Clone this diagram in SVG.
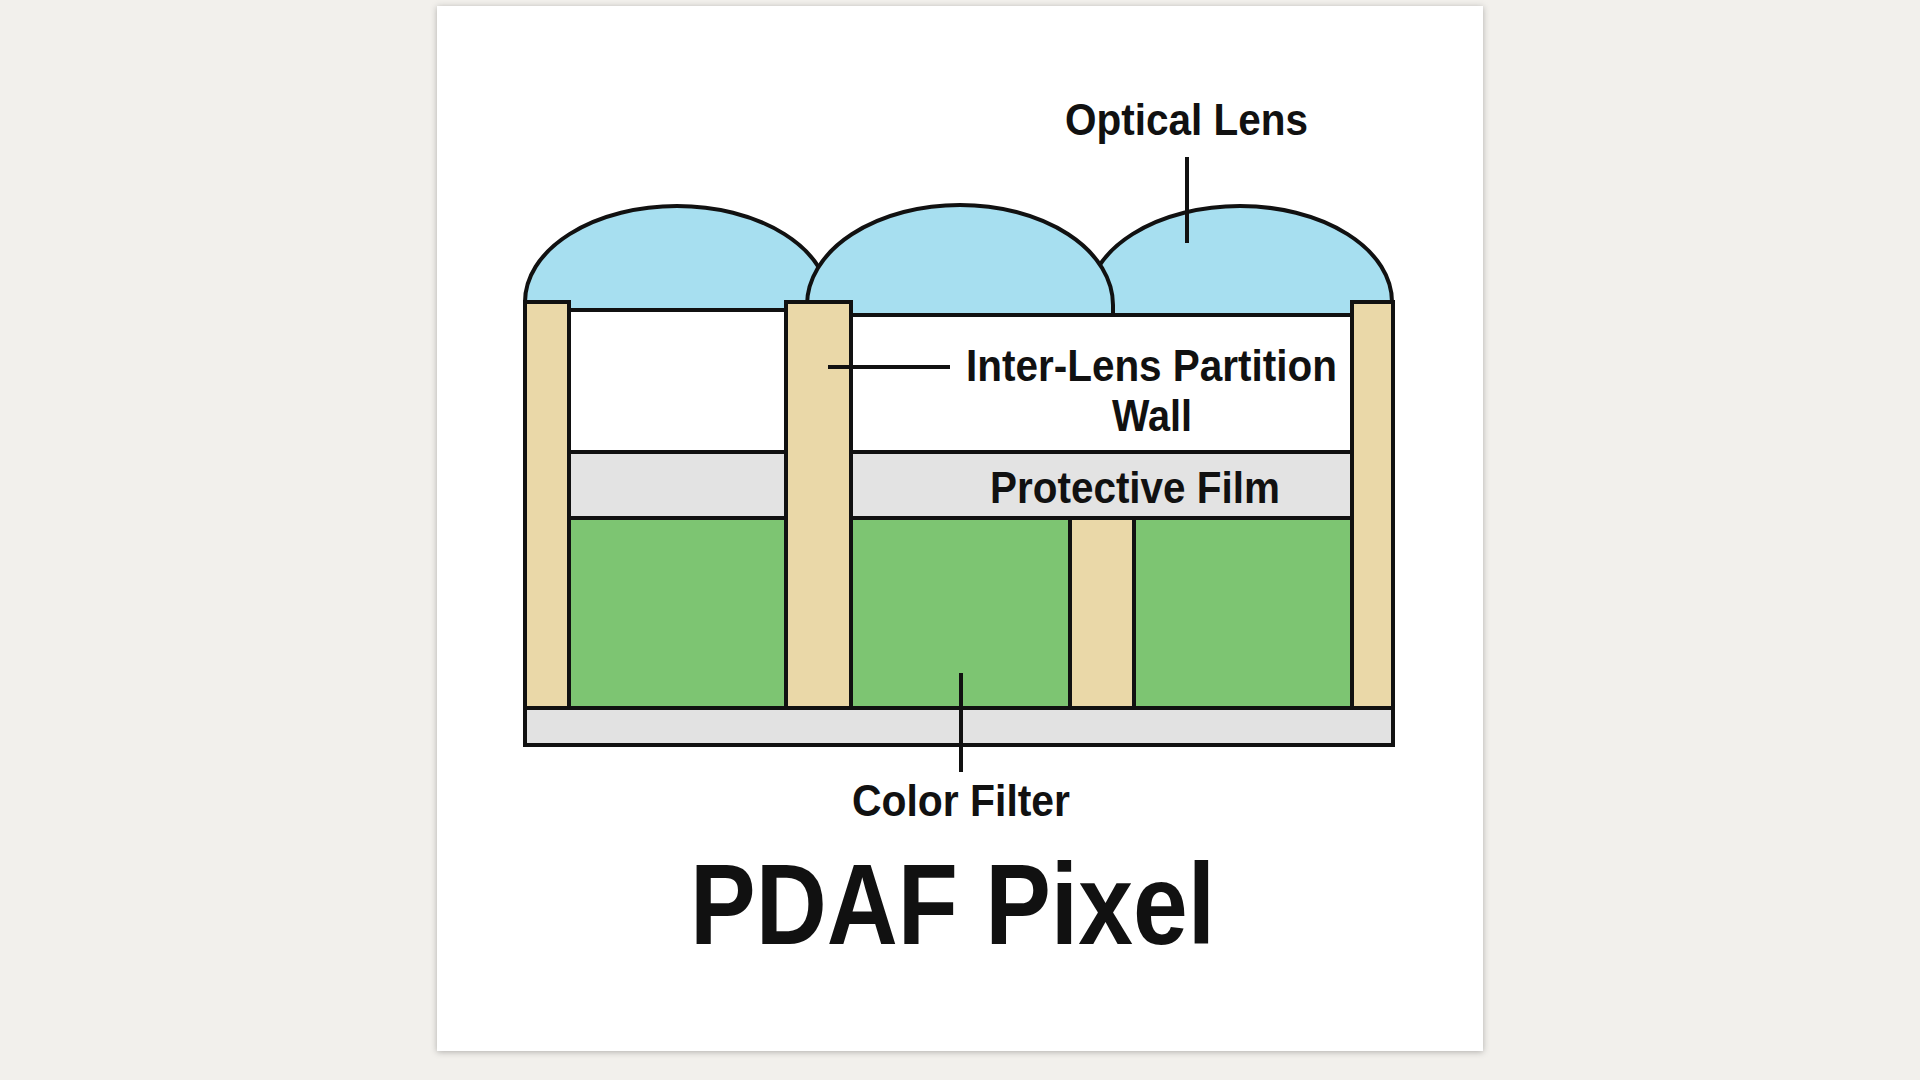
<svg xmlns="http://www.w3.org/2000/svg" width="1920" height="1080" viewBox="0 0 1920 1080">
  <defs>
    <filter id="shadow" x="-5%" y="-5%" width="110%" height="110%">
      <feDropShadow dx="0" dy="1" stdDeviation="3" flood-color="#000" flood-opacity="0.28"/>
    </filter>
    <style>
      .ln { stroke: #111; stroke-width: 4; stroke-linejoin: miter; }
      .lens { fill: #a7dff0; }
      .post { fill: #ead8a8; }
      .white { fill: #ffffff; }
      .film { fill: #e3e3e3; }
      .green { fill: #7dc572; }
      .base { fill: #e2e2e2; }
      .lbl { font-family: "Liberation Sans", Arial, Helvetica, sans-serif; font-weight: 700; font-size: 45px; fill: #111; }
      .title { font-family: "Liberation Sans", Arial, Helvetica, sans-serif; font-weight: 700; font-size: 115px; fill: #111; }
      .leader { stroke: #111; stroke-width: 4; fill: none; }
    </style>
  </defs>

  <rect x="0" y="0" width="1920" height="1080" fill="#f2f0ec"/>
  <rect id="card" x="437" y="6" width="1046" height="1045" fill="#ffffff" filter="url(#shadow)"/>

  <!-- lenses (lens 2 in front) -->
  <g id="lens-1">
    <path class="lens ln" d="M 525 302 A 152 96 0 0 1 829 302 L 829 320 L 525 320 Z"/>
  </g>
  <g id="lens-3">
    <path class="lens ln" d="M 1088 302 A 152 96 0 0 1 1392 302 L 1392 320 L 1088 320 Z"/>
  </g>
  <g id="lens-2">
    <path class="lens ln" d="M 807 305 A 153 100 0 0 1 1113 305 L 1113 320 L 807 320 Z"/>
  </g>

  <!-- cavities between walls -->
  <g id="left-cavity">
    <rect class="white ln" x="569" y="310" width="217" height="142"/>
  </g>
  <g id="right-cavity">
    <rect class="white ln" x="851" y="315" width="501" height="137"/>
  </g>

  <g id="protective-film">
    <rect class="film ln" x="569" y="452" width="217" height="66"/>
    <rect class="film ln" x="851" y="452" width="501" height="66"/>
  </g>

  <g id="color-filter">
    <rect class="green ln" x="569" y="518" width="217" height="190"/>
    <rect class="green ln" x="851" y="518" width="219" height="190"/>
    <rect class="green ln" x="1134" y="518" width="218" height="190"/>
  </g>

  <g id="partition-walls">
    <rect class="post ln" x="525" y="302" width="44" height="406"/>
    <rect class="post ln" x="786" y="302" width="65" height="406"/>
    <rect class="post ln" x="1352" y="302" width="41" height="406"/>
    <rect class="post ln" x="1070" y="518" width="64" height="190"/>
  </g>

  <g id="base-layer">
    <rect class="base ln" x="525" y="708" width="868" height="37"/>
  </g>

  <g id="connectors">
    <line class="leader" x1="1187" y1="157" x2="1187" y2="243"/>
    <line class="leader" x1="828" y1="367" x2="950" y2="367"/>
    <line class="leader" x1="961" y1="673" x2="961" y2="772"/>
  </g>

  <g id="label-optical-lens">
    <text class="lbl" x="1065" y="135" textLength="243" lengthAdjust="spacingAndGlyphs">Optical Lens</text>
  </g>
  <g id="label-partition-wall">
    <text class="lbl" x="966" y="381" textLength="371" lengthAdjust="spacingAndGlyphs">Inter-Lens Partition</text>
    <text class="lbl" x="1112" y="431" textLength="80" lengthAdjust="spacingAndGlyphs">Wall</text>
  </g>
  <g id="label-protective-film">
    <text class="lbl" x="990" y="503" textLength="290" lengthAdjust="spacingAndGlyphs">Protective Film</text>
  </g>
  <g id="label-color-filter">
    <text class="lbl" x="852" y="816" textLength="218" lengthAdjust="spacingAndGlyphs">Color Filter</text>
  </g>
  <g id="title">
    <text class="title" x="690" y="944" textLength="525" lengthAdjust="spacingAndGlyphs">PDAF Pixel</text>
  </g>
</svg>
